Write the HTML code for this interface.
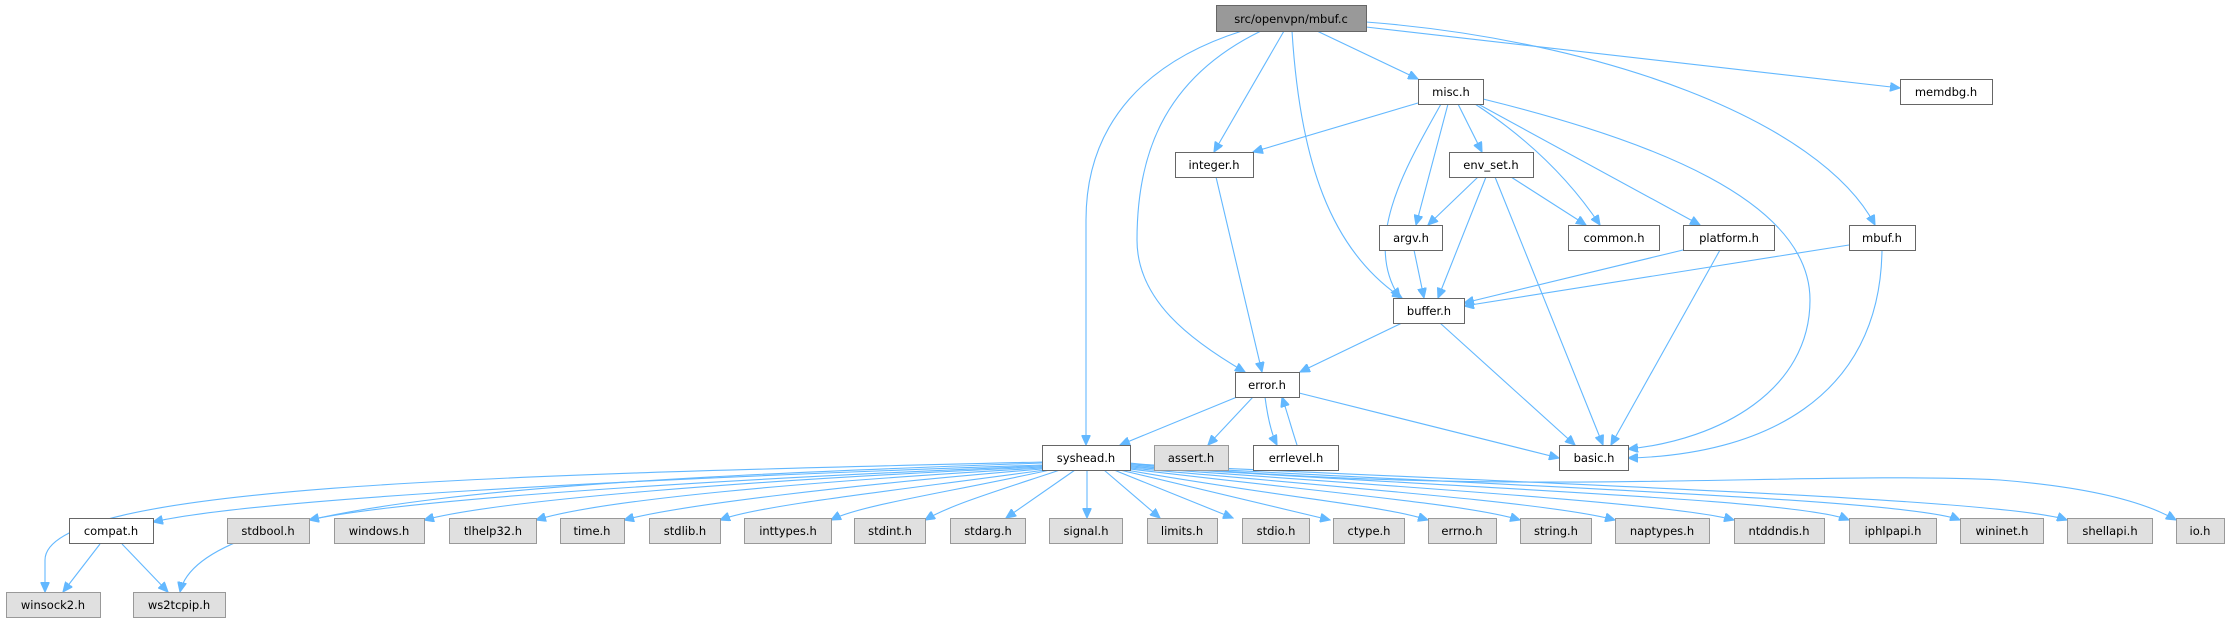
<!DOCTYPE html>
<html><head><meta charset="utf-8"><style>
html,body{margin:0;padding:0;background:#fff;}
svg{display:block;}
text{font-family:"DejaVu Sans","Liberation Sans",sans-serif;font-size:11.5px;fill:#000;text-anchor:middle;}
.n rect{fill:#fff;stroke:#666;stroke-width:1;}
.g rect{fill:#e0e0e0;stroke:#999;stroke-width:1;}
.t rect{fill:#999;stroke:#666;}
path{fill:none;stroke:#63b8ff;stroke-width:1.1;}
</style></head><body>
<svg width="2229" height="623" viewBox="0 0 2229 623" xmlns="http://www.w3.org/2000/svg">
<defs><marker id="a" markerWidth="11" markerHeight="9" refX="10" refY="4.5" orient="auto" markerUnits="userSpaceOnUse"><path d="M0,0 L10,4.5 L0,9 Z" style="fill:#63b8ff;stroke:#63b8ff"/></marker></defs>
<g marker-end="url(#a)">
<!-- top edges -->
<path d="M1317,31 L1418,79"/>
<path d="M1366,27 L1900,88"/>
<path d="M1366,22 C1600,40 1820,120 1875,225"/>
<path d="M1284,31 L1214,152"/>
<path d="M1292,31 C1300,160 1330,250 1402,298"/>
<path d="M1261,31 C1160,80 1137,160 1137,240 C1137,300 1190,340 1245,372"/>
<path d="M1242,31 C1150,60 1086,120 1086,220 L1086,445"/>
<!-- misc -->
<path d="M1418,103 L1253,152"/>
<path d="M1441,104 C1410,160 1360,240 1400,298"/>
<path d="M1448,104 L1416,225"/>
<path d="M1458,104 L1482,152"/>
<path d="M1475,104 C1530,140 1570,180 1600,225"/>
<path d="M1478,104 L1700,225"/>
<path d="M1483,99 C1650,140 1810,200 1810,300 C1810,390 1720,440 1628,449"/>
<!-- env_set -->
<path d="M1478,177 L1428,225"/>
<path d="M1486,177 L1438,298"/>
<path d="M1511,177 L1586,225"/>
<path d="M1495,177 L1603,445"/>
<path d="M1414,250 L1424,298"/>
<path d="M1683,250 L1464,303"/>
<path d="M1720,250 L1611,445"/>
<path d="M1849,245 L1464,306"/>
<path d="M1882,250 C1880,400 1760,455 1628,458"/>
<path d="M1216,177 L1262,372"/>
<path d="M1402,323 L1300,372"/>
<path d="M1440,323 L1575,445"/>
<path d="M1237,397 L1120,445"/>
<path d="M1253,397 L1208,445"/>
<path d="M1265,397 C1268,420 1272,435 1277,445"/>
<path d="M1297,445 C1292,430 1288,415 1282,397"/>
<path d="M1299,393 L1559,458"/>
<!-- syshead bottom -->
<path d="M1042,462 C500,475 45,485 45,560 L45,592"/>
<path d="M1042,463 C550,480 200,500 180,592"/>
<path d="M1042,465 C600,480 250,500 153,522"/>
<path d="M1042,466 C700,480 400,500 309,520"/>
<path d="M1042,467 C750,480 500,500 424,520"/>
<path d="M1042,468 C800,482 600,500 536,520"/>
<path d="M1042,469 C850,485 680,505 624,520"/>
<path d="M1045,470 C900,490 760,505 720,520"/>
<path d="M1050,470 C950,492 860,505 831,520"/>
<path d="M1060,470 C1000,490 950,505 925,520"/>
<path d="M1075,470 L1006,518"/>
<path d="M1087,470 L1087,518"/>
<path d="M1104,470 L1160,518"/>
<path d="M1114,470 L1233,518"/>
<path d="M1120,470 L1330,520"/>
<path d="M1126,470 C1300,500 1380,505 1428,520"/>
<path d="M1130,469 C1350,495 1470,505 1520,520"/>
<path d="M1130,468 C1400,492 1560,505 1615,520"/>
<path d="M1130,467 C1450,490 1680,505 1734,520"/>
<path d="M1130,466 C1500,490 1800,500 1849,520"/>
<path d="M1130,465 C1550,488 1910,500 1960,520"/>
<path d="M1130,464 C1600,486 2010,500 2067,520"/>
<path d="M1130,463 C1500,500 1800,470 2000,480 C2100,488 2150,505 2176,520"/>
<path d="M100,544 L63,592"/>
<path d="M122,544 L168,592"/>
</g>
<g class="t"><rect x="1216.5" y="5.5" width="150" height="26"/><text x="1291" y="23">src/openvpn/mbuf.c</text></g>
<g class="n">
<rect x="1418.5" y="79.5" width="65" height="25"/><text x="1451" y="96">misc.h</text>
<rect x="1900.5" y="79.5" width="92" height="25"/><text x="1946" y="96">memdbg.h</text>
<rect x="1175.5" y="152.5" width="78" height="25"/><text x="1214" y="169">integer.h</text>
<rect x="1449.5" y="152.5" width="84" height="25"/><text x="1491" y="169">env_set.h</text>
<rect x="1379.5" y="225.5" width="63" height="25"/><text x="1411" y="242">argv.h</text>
<rect x="1568.5" y="225.5" width="91" height="25"/><text x="1614" y="242">common.h</text>
<rect x="1683.5" y="225.5" width="91" height="25"/><text x="1729" y="242">platform.h</text>
<rect x="1849.5" y="225.5" width="66" height="25"/><text x="1882" y="242">mbuf.h</text>
<rect x="1393.5" y="298.5" width="71" height="25"/><text x="1429" y="315">buffer.h</text>
<rect x="1235.5" y="372.5" width="64" height="25"/><text x="1267" y="389">error.h</text>
<rect x="1042.5" y="445.5" width="88" height="25"/><text x="1086" y="462">syshead.h</text>
<rect x="1253.5" y="445.5" width="85" height="25"/><text x="1296" y="462">errlevel.h</text>
<rect x="1559.5" y="445.5" width="69" height="25"/><text x="1594" y="462">basic.h</text>
<rect x="69.5" y="518.5" width="84" height="25"/><text x="111" y="535">compat.h</text>
</g>
<g class="g">
<rect x="1154.5" y="445.5" width="74" height="25"/><text x="1191" y="462">assert.h</text>
<rect x="227.5" y="518.5" width="82" height="25"/><text x="268" y="535">stdbool.h</text>
<rect x="334.5" y="518.5" width="90" height="25"/><text x="379" y="535">windows.h</text>
<rect x="449.5" y="518.5" width="87" height="25"/><text x="493" y="535">tlhelp32.h</text>
<rect x="560.5" y="518.5" width="64" height="25"/><text x="592" y="535">time.h</text>
<rect x="649.5" y="518.5" width="71" height="25"/><text x="685" y="535">stdlib.h</text>
<rect x="744.5" y="518.5" width="87" height="25"/><text x="788" y="535">inttypes.h</text>
<rect x="854.5" y="518.5" width="71" height="25"/><text x="890" y="535">stdint.h</text>
<rect x="950.5" y="518.5" width="75" height="25"/><text x="988" y="535">stdarg.h</text>
<rect x="1049.5" y="518.5" width="73" height="25"/><text x="1086" y="535">signal.h</text>
<rect x="1147.5" y="518.5" width="70" height="25"/><text x="1182" y="535">limits.h</text>
<rect x="1242.5" y="518.5" width="67" height="25"/><text x="1276" y="535">stdio.h</text>
<rect x="1333.5" y="518.5" width="71" height="25"/><text x="1369" y="535">ctype.h</text>
<rect x="1428.5" y="518.5" width="68" height="25"/><text x="1462" y="535">errno.h</text>
<rect x="1520.5" y="518.5" width="71" height="25"/><text x="1556" y="535">string.h</text>
<rect x="1615.5" y="518.5" width="94" height="25"/><text x="1662" y="535">naptypes.h</text>
<rect x="1734.5" y="518.5" width="90" height="25"/><text x="1779" y="535">ntddndis.h</text>
<rect x="1849.5" y="518.5" width="87" height="25"/><text x="1893" y="535">iphlpapi.h</text>
<rect x="1960.5" y="518.5" width="83" height="25"/><text x="2002" y="535">wininet.h</text>
<rect x="2067.5" y="518.5" width="85" height="25"/><text x="2110" y="535">shellapi.h</text>
<rect x="2176.5" y="518.5" width="48" height="25"/><text x="2200" y="535">io.h</text>
<rect x="6.5" y="592.5" width="94" height="25"/><text x="53" y="609">winsock2.h</text>
<rect x="133.5" y="592.5" width="92" height="25"/><text x="179" y="609">ws2tcpip.h</text>
</g>
</svg>
</body></html>
